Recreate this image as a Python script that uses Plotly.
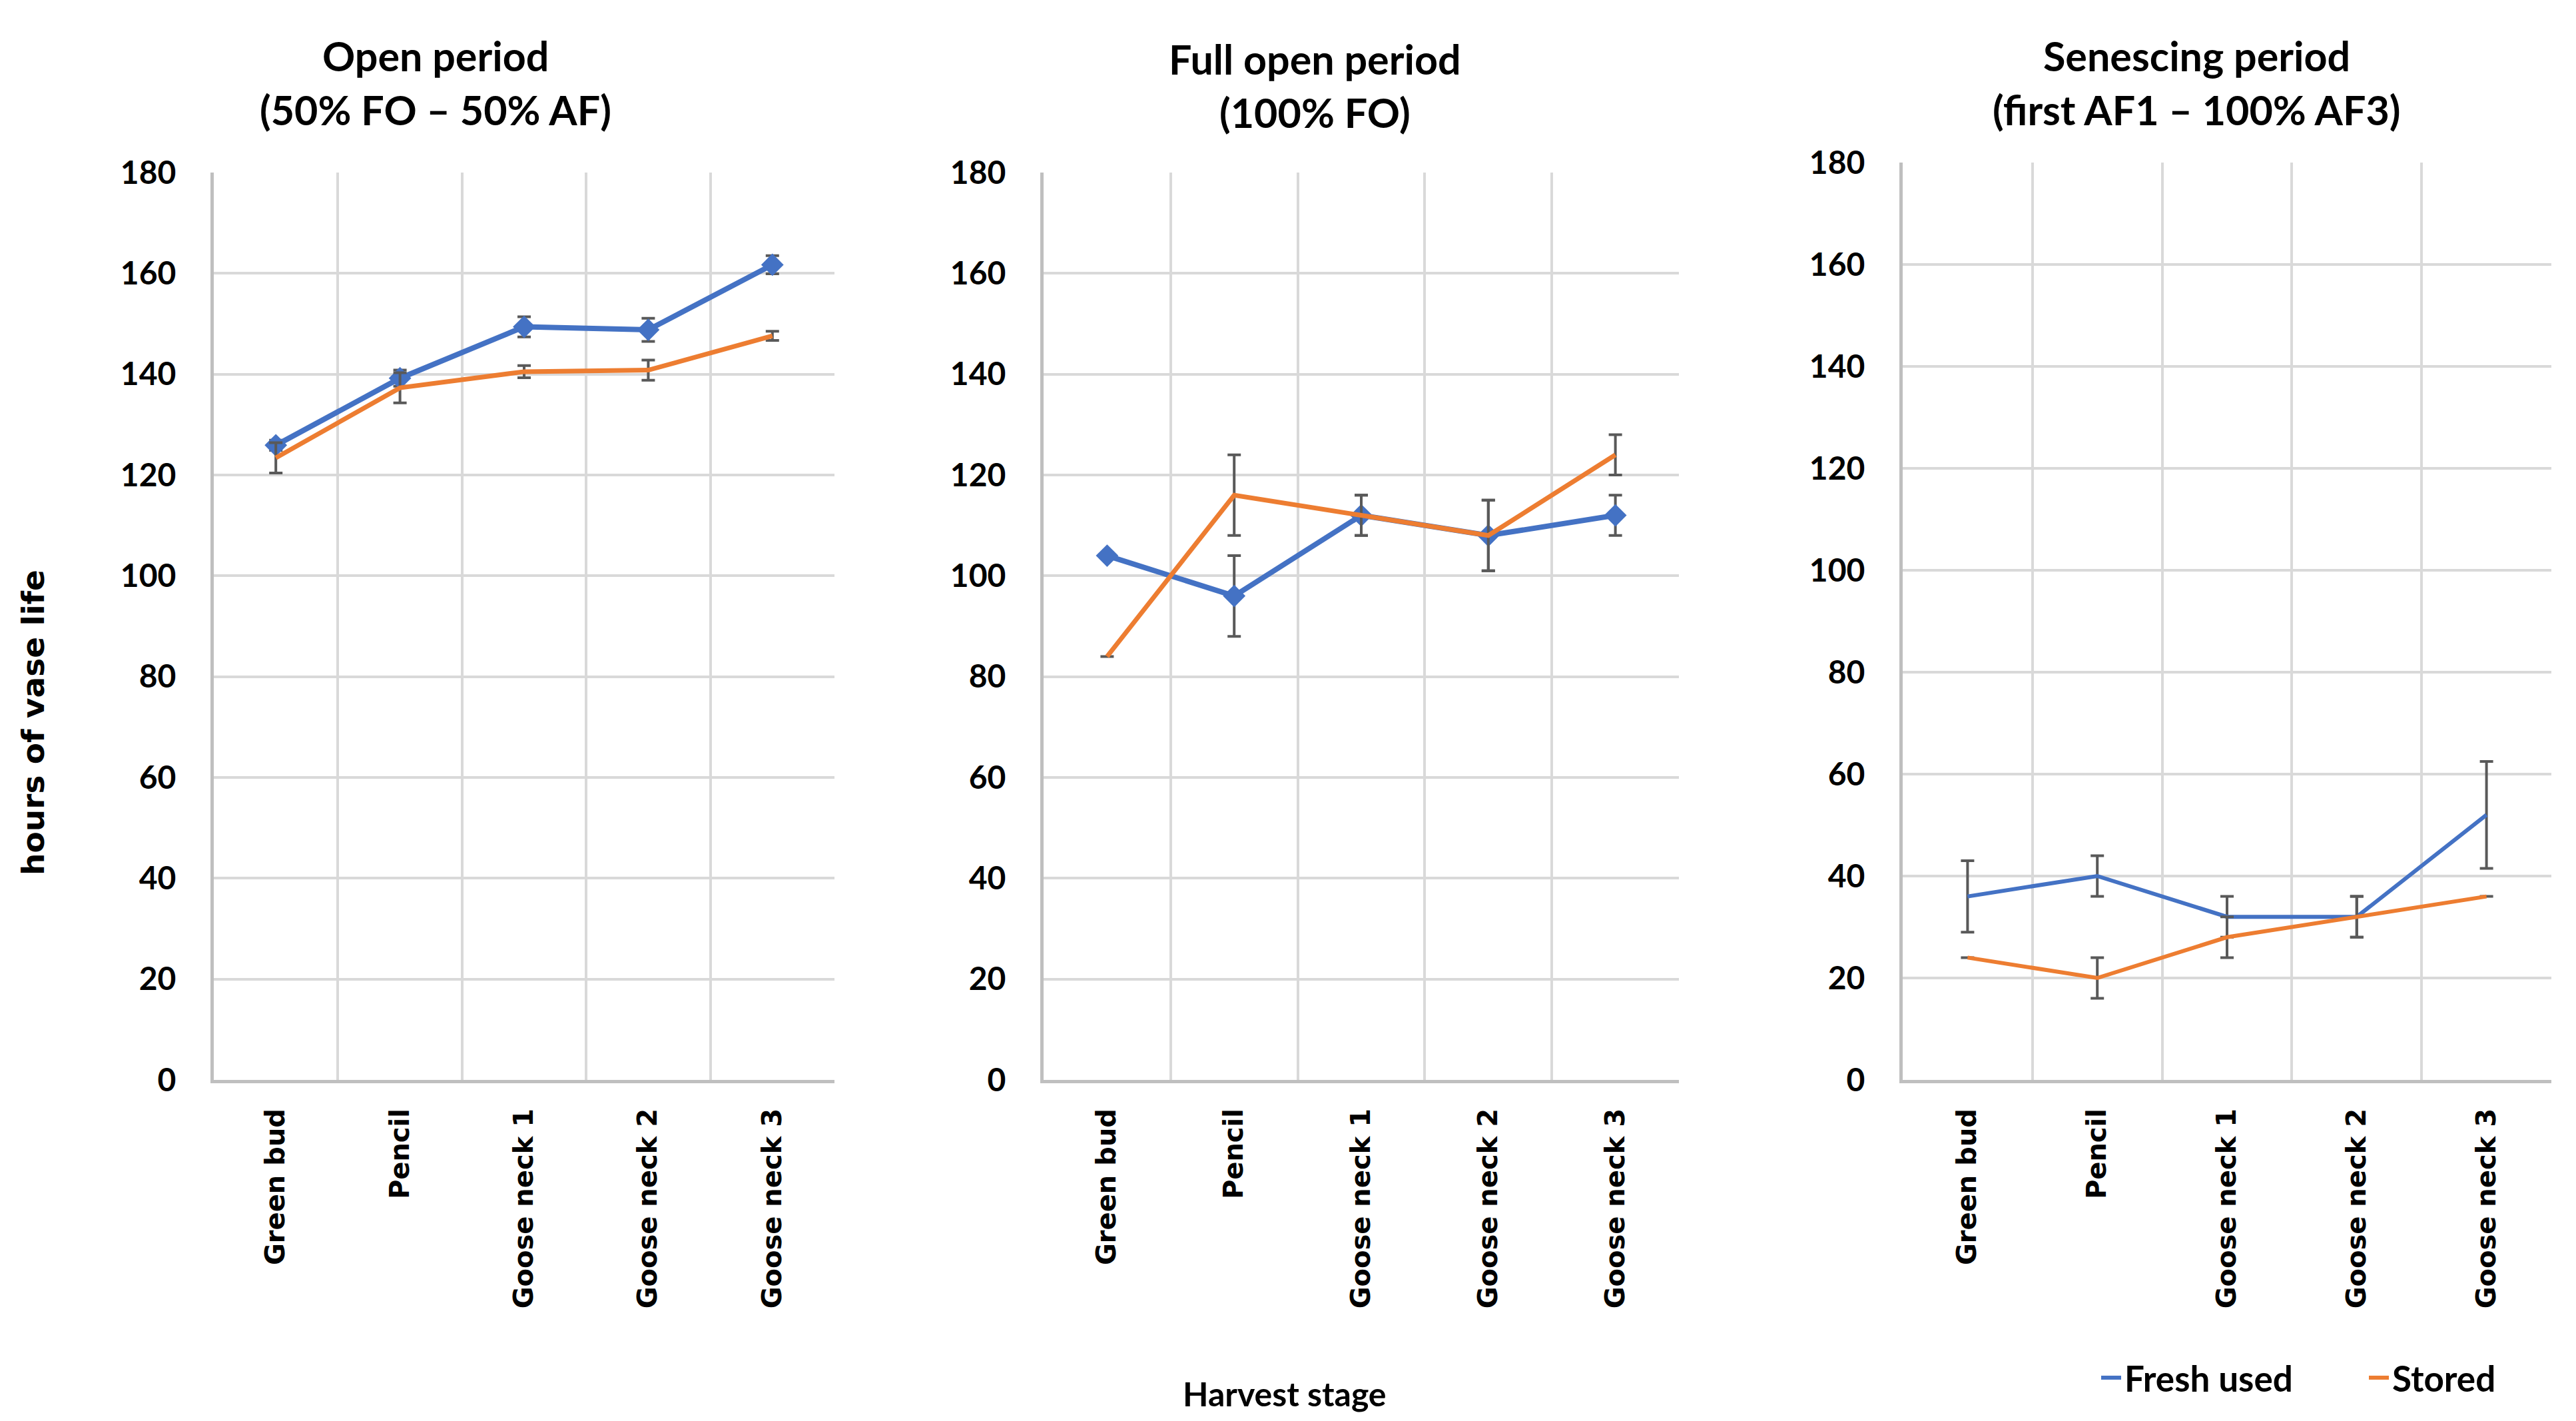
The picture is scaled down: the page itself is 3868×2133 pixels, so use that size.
import plotly.graph_objects as go

stages = ["Green bud", "Pencil", "Goose neck 1", "Goose neck 2", "Goose neck 3"]
y_ticks = [0, 20, 40, 60, 80, 100, 120, 140, 160, 180]

titles = [
    ("Open period", "(50% FO – 50% AF)"),
    ("Full open period", "(100% FO)"),
    ("Senescing period", "(first AF1 – 100% AF3)"),
]

# Open period
open_fresh = [125.9, 139.2, 149.4, 148.8, 161.7]
open_fresh_err = [1.0, 1.6, 2.0, 2.3, 1.8]
open_stored = [123.4, 137.3, 140.5, 140.8, 147.6]
open_stored_err = [3.0, 3.0, 1.2, 2.0, 0.9]

# Full open period
full_fresh = [104, 96, 112, 108, 112]
full_fresh_err = [0, 8, 4, 7, 4]
full_stored = [84, 116, 112, 108, 124]
full_stored_err = [0, 8, 4, 7, 4]

# Senescing period
sen_fresh = [36, 40, 32, 32, 52]
sen_fresh_err = [7, 4, 4, 4, 10.5]
sen_stored = [24, 20, 28, 32, 36]
sen_stored_err = [0, 4, 4, 4, 0]

BLUE = "#4472C4"
ORANGE = "#ED7D31"
ERR = "#595959"
GRID = "#D9D9D9"
AXIS = "#BFBFBF"
W, H = 3868, 2133
OFF = 8  # page body margin compensation


def px_x(v):
    return (v - OFF) / W


def px_y(v):
    return 1 - (v - OFF) / H


panels = [
    dict(fresh=open_fresh, fe=open_fresh_err, stored=open_stored, se=open_stored_err,
         markers=True, lw_f=8, lw_s=7, x=(321, 1253), top=259),
    dict(fresh=full_fresh, fe=full_fresh_err, stored=full_stored, se=full_stored_err,
         markers=True, lw_f=8, lw_s=7, x=(1567, 2521), top=259),
    dict(fresh=sen_fresh, fe=sen_fresh_err, stored=sen_stored, se=sen_stored_err,
         markers=False, lw_f=6, lw_s=6, x=(2857, 3831), top=244),
]
bottom = 1621

fig = go.Figure()
layout = {}
for i, p in enumerate(panels):
    n = "" if i == 0 else str(i + 1)
    xa, ya = "x" + n, "y" + n
    legend = (i == 2)
    fig.add_trace(go.Scatter(
        x=stages, y=p["fresh"], xaxis=xa, yaxis=ya, name="Fresh used",
        mode="lines+markers" if p["markers"] else "lines",
        line=dict(color=BLUE, width=p["lw_f"]),
        marker=dict(symbol="diamond", size=26, color=BLUE),
        error_y=dict(type="data", array=p["fe"], color=ERR, thickness=4, width=10),
        showlegend=legend, legendrank=1,
    ))
    fig.add_trace(go.Scatter(
        x=stages, y=p["stored"], xaxis=xa, yaxis=ya, name="Stored",
        mode="lines",
        line=dict(color=ORANGE, width=p["lw_s"]),
        error_y=dict(type="data", array=p["se"], color=ERR, thickness=4, width=10),
        showlegend=legend, legendrank=2,
    ))
    layout["xaxis" + n] = dict(
        domain=[px_x(p["x"][0]), px_x(p["x"][1])], anchor=ya,
        type="category", categoryorder="array", categoryarray=stages,
        range=[-0.5, 4.5], tickson="boundaries", ticks="",
        showgrid=True, gridcolor=GRID, gridwidth=4, automargin=False,
        showline=True, linecolor=AXIS, linewidth=5,
        tickangle=-90, ticklabelstandoff=22,
        tickfont=dict(family="DejaVu Sans", size=40, color="#000000", weight="bold"),
    )
    layout["yaxis" + n] = dict(
        domain=[px_y(bottom), px_y(p["top"])], anchor=xa,
        range=[0, 180], tickvals=y_ticks, ticks="",
        showgrid=True, gridcolor=GRID, gridwidth=4, zeroline=False, automargin=False,
        showline=True, linecolor=AXIS, linewidth=5,
        ticklabelstandoff=42,
        tickfont=dict(family="Lato", size=48, color="#000000", weight="bold"),
    )

annotations = []
title_pos = [(654, 84, 165), (1974, 89, 168), (3298, 84, 165)]
for (l1, l2), (cx, y1, y2) in zip(titles, title_pos):
    for txt, yy in ((l1, y1), (l2, y2)):
        annotations.append(dict(
            text=txt, x=px_x(cx), y=px_y(yy), xref="paper", yref="paper",
            xanchor="center", yanchor="middle", showarrow=False,
            font=dict(family="Lato", size=61, color="#000000", weight="bold"),
        ))
annotations.append(dict(
    text="hours of vase life", x=px_x(49), y=px_y(1085), xref="paper", yref="paper",
    xanchor="center", yanchor="middle", showarrow=False, textangle=-90,
    font=dict(family="DejaVu Sans", size=47, color="#000000", weight="bold"),
))
annotations.append(dict(
    text="Harvest stage", x=px_x(1929), y=px_y(2092), xref="paper", yref="paper",
    xanchor="center", yanchor="middle", showarrow=False,
    font=dict(family="Lato", size=50, color="#000000", weight="bold"),
))

fig.update_layout(
    width=W, height=H, autosize=False,
    margin=dict(l=0, r=0, t=0, b=0, pad=0, autoexpand=False),
    paper_bgcolor="white", plot_bgcolor="white",
    annotations=annotations,
    legend=dict(orientation="h", x=px_x(3150), xanchor="left", y=px_y(2068), yanchor="middle",
                font=dict(family="Lato", size=53, color="#000000", weight="bold"),
                entrywidth=357, entrywidthmode="pixels",
                bgcolor="rgba(0,0,0,0)"),
    **layout,
)

fig.write_html("out.html")
